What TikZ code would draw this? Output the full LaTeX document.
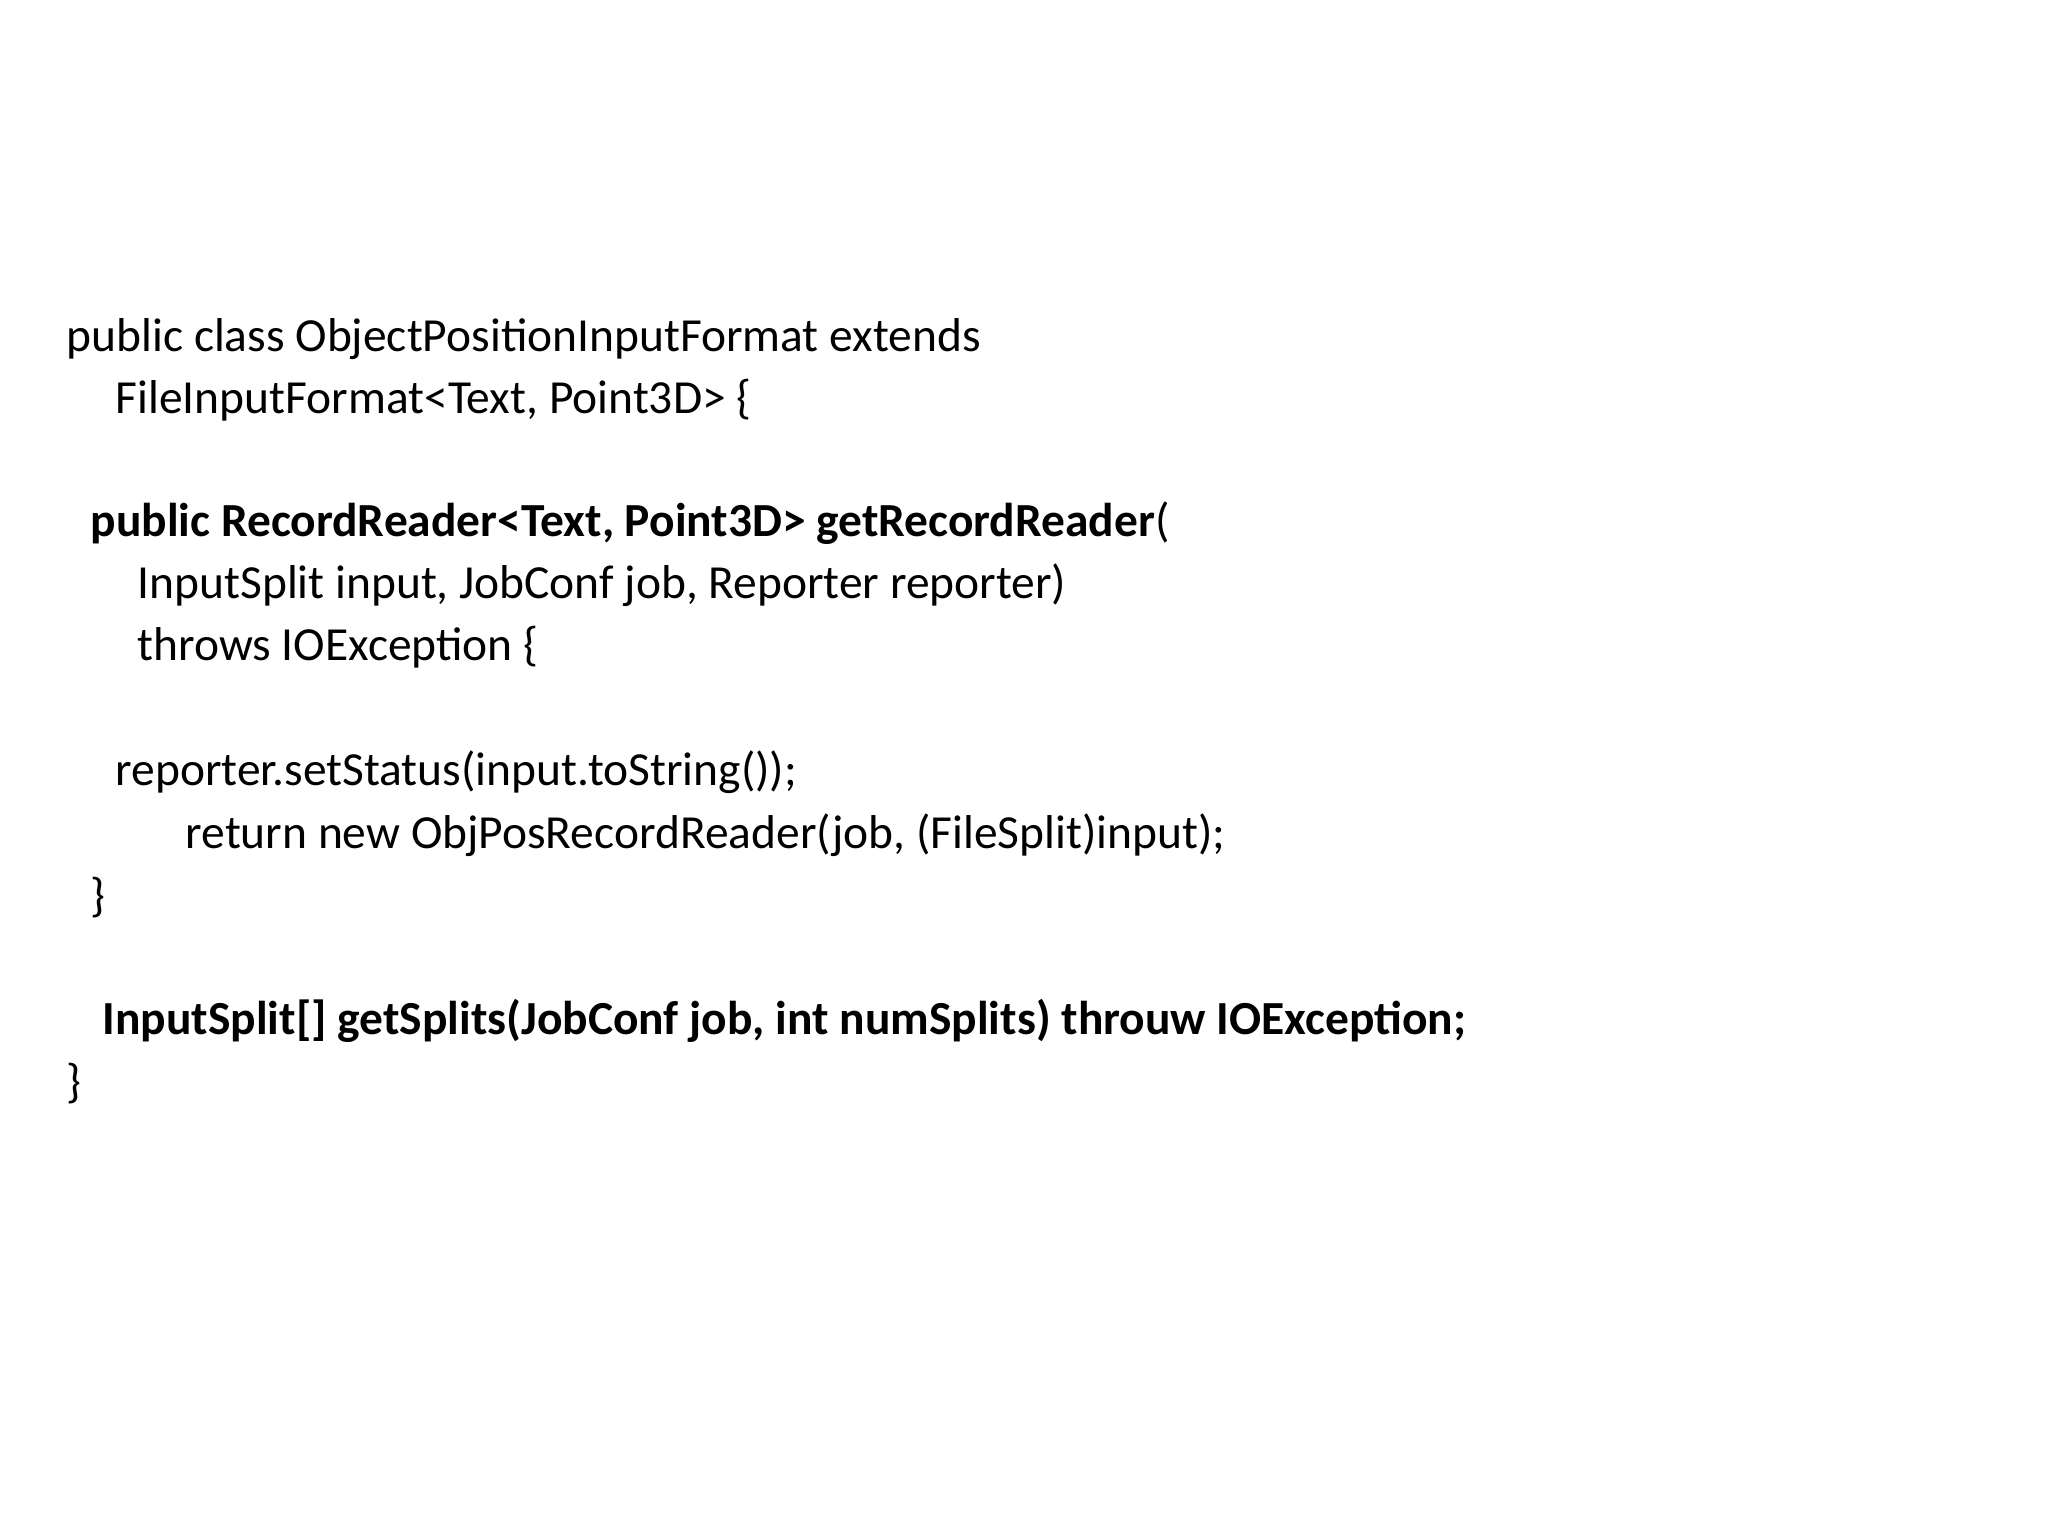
\documentclass[tikz,border=0pt]{standalone}
\usepackage{fontspec}
\setmainfont{Carlito}
\begin{document}
\begin{tikzpicture}[x=0.01cm,y=-0.01cm,
  code/.style={anchor=mid west,inner sep=0pt,font=\fontsize{13.5}{16}\selectfont}]
\useasboundingbox[fill=white] (0,0) rectangle (2048,1536);
\node[code] (l1) at (66,343) {public class ObjectPositionInputFormat extends};
\node[code] (l2) at (115,405) {FileInputFormat<Text, Point3D> \{};
\node[code] (l4) at (90,528) {\textbf{public RecordReader<Text, Point3D> getRecordReader}(};
\node[code] (l5) at (137,590) {InputSplit input, JobConf job, Reporter reporter)};
\node[code] (l6) at (137,652) {throws IOException \{};
\node[code] (l8) at (115,777) {reporter.setStatus(input.toString());};
\node[code] (l9) at (185,840) {return new ObjPosRecordReader(job, (FileSplit)input);};
\node[code] (l10) at (90,903) {\}};
\node[code] (l12) at (102,1026) {\textbf{InputSplit[] getSplits(JobConf job, int numSplits) throuw IOException;}};
\node[code] (l13) at (66,1089) {\}};
\end{tikzpicture}
\end{document}
